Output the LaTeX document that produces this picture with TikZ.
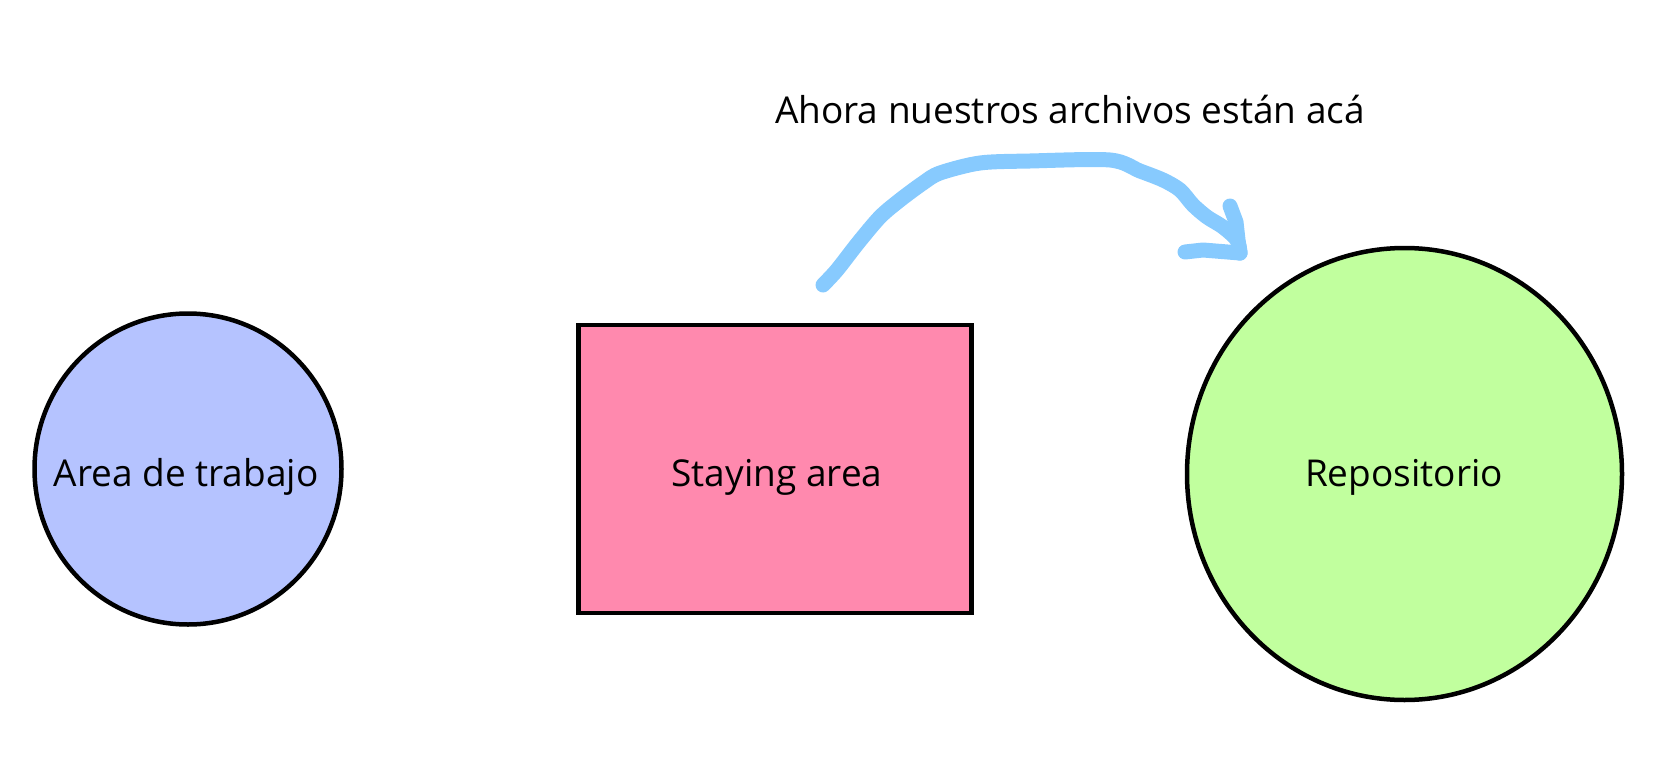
\documentclass[tikz,border=0pt]{standalone}
\usepackage{fontspec}
\setmainfont{Open Sans}
\usetikzlibrary{shapes.geometric}
\definecolor{workblue}{RGB}{181,195,255}
\definecolor{stagepink}{RGB}{255,137,174}
\definecolor{repogreen}{RGB}{193,255,158}
\definecolor{arrowblue}{RGB}{135,202,254}
\tikzset{
  shapebox/.style={draw=black, line width=4.5pt, inner sep=0pt},
  txt/.style={font=\fontsize{37}{44}\selectfont, inner sep=0pt, anchor=base},
  stroke/.style={draw=arrowblue, line width=15pt, line cap=round, line join=round}
}
\begin{document}
\begin{tikzpicture}[x=1pt,y=-1pt]
\useasboundingbox (0,0) rectangle (1654,765);
\node[shapebox, ellipse, fill=workblue, minimum width=307pt, minimum height=311pt] (work) at (188,469) {};
\node[txt] (worktxt) at (186,486) {Area de trabajo};
\node[shapebox, rectangle, fill=stagepink, minimum width=393pt, minimum height=288pt] (stage) at (775,469) {};
\node[txt] (stagetxt) at (777,486) {Staying area};
\node[shapebox, ellipse, fill=repogreen, minimum width=435pt, minimum height=452pt] (repo) at (1404.5,474) {};
\node[txt] (repotxt) at (1404,486) {Repositorio};
\node[txt] (note) at (1070,124) {Ahora nuestros archivos están acá};
\coordinate (s) at (823,285);
\coordinate (tip) at (1240,253);
\coordinate (h1) at (1230,206);
\coordinate (h2) at (1185,252);
\draw[stroke] plot[smooth, tension=0.5] coordinates {(823,285) (837,270) (858,243) (880,217) (900,200) (923,183) (940,173) (980,163) (1030,161) (1110,160) (1140,171) (1163,180) (1180,190) (1193,205) (1207,217) (1223,227) (1237,240) (1240,253)};
\draw[stroke] (h1) -- (1236,222) -- (1238,240) -- (tip);
\draw[stroke] (h2) -- (1203,250) -- (tip);
\end{tikzpicture}
\end{document}
